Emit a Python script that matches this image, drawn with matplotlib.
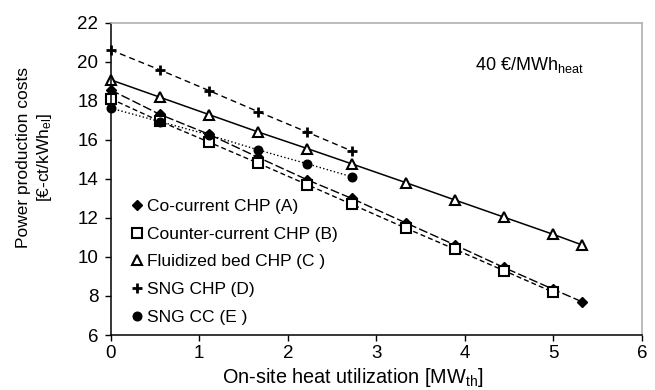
import matplotlib
matplotlib.use("Agg")
import matplotlib.pyplot as plt

plt.rcParams['font.family'] = ['Liberation Sans', 'DejaVu Sans']
plt.rcParams['mathtext.fontset'] = 'custom'
plt.rcParams['mathtext.rm'] = 'Liberation Sans'
plt.rcParams['mathtext.it'] = 'Liberation Sans'
plt.rcParams['lines.scale_dashes'] = False

# heat utilization [MW_th]
x_long = [0, 0.555, 1.11, 1.665, 2.22, 2.72, 3.33, 3.885, 4.44, 4.995, 5.32]
x_b = x_long[:10]
x_short = x_long[:6]

cost_a = [18.55, 17.3, 16.28, 15.1, 13.95, 13.0, 11.75, 10.62, 9.46, 8.35, 7.71]
cost_b = [18.1, 16.95, 15.88, 14.8, 13.7, 12.7, 11.48, 10.4, 9.3, 8.2]
cost_c = [19.07, 18.18, 17.29, 16.40, 15.55, 14.77, 13.81, 12.92, 12.04, 11.16, 10.62]
cost_d = [20.6, 19.58, 18.52, 17.44, 16.39, 15.43]
cost_e = [17.62, 16.93, 16.25, 15.48, 14.77, 14.11]

labels = ['Co-current CHP (A)', 'Counter-current CHP (B)', 'Fluidized bed CHP (C )',
          'SNG CHP (D)', 'SNG CC (E )']

fig = plt.figure(figsize=(6.55, 3.9), dpi=100)
ax = fig.add_axes([0.169, 0.141, 0.811, 0.801])

sty_a = dict(marker='D', ms=5, mfc='black', mec='black')
sty_b = dict(marker='s', ms=6.5, mfc='white', mec='black', mew=1.5)
sty_c = dict(marker='^', ms=7.5, mfc='white', mec='black', mew=1.5)
sty_d = dict(marker='+', ms=7, mec='black', mew=2)
sty_e = dict(marker='o', ms=6.2, mfc='black', mec='black')

ax.plot(x_long, cost_a, color='black', lw=1.0, dashes=(6.5, 2.2), clip_on=False, **sty_a)
ax.plot(x_b, cost_b, color='black', lw=1.0, dashes=(3.6, 2.2), clip_on=False, **sty_b)
ax.plot(x_long, cost_c, color='black', lw=1.1, ls='-', clip_on=False, **sty_c)
ax.plot(x_short, cost_d, color='black', lw=1.0, dashes=(4.3, 2.9), clip_on=False, **sty_d)
ax.plot(x_short, cost_e, color='black', lw=1.0, ls=':', clip_on=False, **sty_e)

# legend shows markers only
handles = [plt.Line2D([], [], ls='none', **s) for s in (sty_a, sty_b, sty_c, sty_d, sty_e)]
ax.legend(handles, labels, loc='lower left', bbox_to_anchor=(0.02, 0.0),
          frameon=False, handlelength=0.6, handletextpad=0.3,
          labelspacing=0.72, borderaxespad=0.2, fontsize=12.5)

ax.text(4.116, 19.58, r'40 €/MWh$_{\mathrm{heat}}$', fontsize=13, va='baseline')

ax.set_xlim(0, 6)
ax.set_ylim(6, 22)
ax.set_xticks(range(0, 7))
ax.set_yticks(range(6, 23, 2))
ax.tick_params(direction='out', length=4, width=1, labelsize=13.5)
ax.tick_params(axis='x', pad=3.5)
ax.tick_params(axis='y', pad=5)

for side in ['top', 'right']:
    ax.spines[side].set_color('#b0b0b0')
    ax.spines[side].set_linewidth(1.2)
for side in ['left', 'bottom']:
    ax.spines[side].set_linewidth(1.1)

ax.set_xlabel(r'On-site heat utilization [MW$_{\mathrm{th}}$]', fontsize=14.3)
ax.xaxis.label.set_va('baseline')
ax.xaxis.set_label_coords(0.456, -0.154)

ax.set_ylabel('Power production costs\n' + r'[€-ct/kWh$_{\mathrm{el}}$]', fontsize=12.5,
              linespacing=1.25)
ax.yaxis.label.set_va('center')
ax.yaxis.set_label_coords(-0.1426, 0.567)

fig.savefig('out.png', dpi=100)
